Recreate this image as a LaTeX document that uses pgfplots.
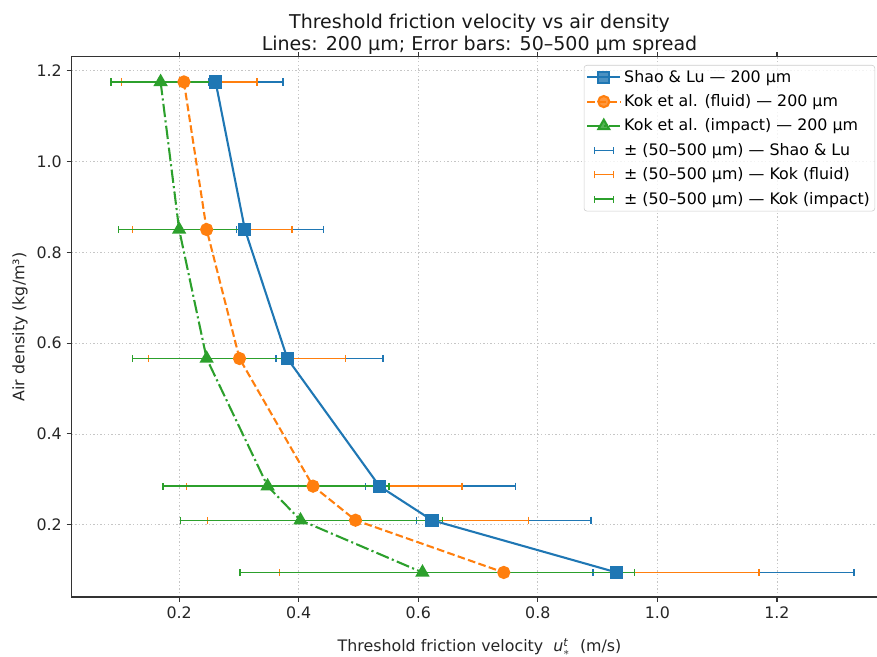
\documentclass[border=0pt]{standalone}
\usepackage{fontspec}
\setmainfont{DejaVu Sans}
\usepackage{pgfplots}
\usepackage{pgfplotstable}
\pgfplotsset{compat=1.18}

\definecolor{tabblue}{HTML}{1F77B4}
\definecolor{taborange}{HTML}{FF7F0E}
\definecolor{tabgreen}{HTML}{2CA02C}

% columns: x (200 um), y (air density), em/ep = spread to 50 / 500 um
\pgfplotstableread{
x      y      em     ep
0.261  1.175  0.012  0.113
0.310  0.850  0.014  0.131
0.381  0.566  0.019  0.160
0.535  0.285  0.023  0.228
0.623  0.210  0.026  0.266
0.932  0.095  0.040  0.397
}\shaolu
\pgfplotstableread{
x      y      em      ep
0.208  1.175  0.1045  0.122
0.246  0.850  0.124   0.143
0.301  0.566  0.152   0.177
0.424  0.285  0.2115  0.249
0.495  0.210  0.248   0.289
0.743  0.095  0.375   0.427
}\kokfluid
\pgfplotstableread{
x      y      em     ep
0.169  1.175  0.083  0.099
0.200  0.850  0.101  0.117
0.246  0.566  0.124  0.143
0.348  0.285  0.175  0.203
0.403  0.210  0.201  0.238
0.607  0.095  0.305  0.355
}\kokimpact

\pgfplotsset{
  errspread/.style={
    draw=none, forget plot,
    error bars/.cd, x dir=both, x explicit, error mark=|,
    error bar style={draw=#1, line width=1pt, solid},
    error mark options={draw=#1, line width=1pt, mark size=2.6pt, solid},
  },
  errlegend/.style={
    legend image code/.code={
      \draw[#1, line width=1pt] (0.18cm,0cm) -- (0.66cm,0cm);
      \draw[#1, line width=1pt] (0.18cm,-2.6pt) -- (0.18cm,2.6pt);
      \draw[#1, line width=1pt] (0.66cm,-2.6pt) -- (0.66cm,2.6pt);
    }
  },
}

\begin{document}
\begin{tikzpicture}
\begin{axis}[
    scale only axis,
    width=587.5pt, height=388.8pt,
    xmin=0.02, xmax=1.385,
    ymin=0.041, ymax=1.23,
    xtick={0.2,0.4,0.6,0.8,1.0,1.2},
    ytick={0.2,0.4,0.6,0.8,1.0,1.2},
    /pgf/number format/.cd, fixed, fixed zerofill, precision=1, assume math mode=true,
    /pgfplots/.cd,
    tick align=outside,
    major tick length=3.5pt,
    tick style={black!80, line width=0.8pt},
    axis line style={black!80, line width=0.8pt},
    every tick label/.append style={font=\fontsize{11.4}{13.7}\selectfont, text=black!85},
    grid=major,
    grid style={gray!45, line width=0.6pt, dash pattern=on 1pt off 1.6pt},
    title={Threshold friction velocity vs air density\\Lines: 200 µm; Error bars: 50–500 µm spread},
    title style={align=center, font=\fontsize{13.7}{15.8}\selectfont, text=black!90,
      at={(0.5,1)}, anchor=south, yshift=-7.6pt},
    xlabel={Threshold friction velocity \ \textit{u}$^{\mbox{\footnotesize\itshape t}}_{*}$ \ (m/s)},
    ylabel={Air density (kg/m³)},
    label style={font=\fontsize{11.4}{13.7}\selectfont, text=black!85},
    xlabel style={at={(axis description cs:0.5,0)}, anchor=center, yshift=-36pt},
    ylabel style={at={(axis description cs:-0.063,0.5)}, anchor=center},
    legend cell align=left,
    legend style={at={(1,1)}, anchor=north east, xshift=-9pt, yshift=-5.8pt,
      font=\fontsize{11.4}{13.7}\selectfont, draw=black!20, rounded corners=2pt,
      fill=white, fill opacity=0.8, text opacity=1, inner sep=1.5pt, row sep=3.4pt},
    legend image code/.code={
      \draw[mark repeat=2, mark phase=2, #1] plot coordinates {(0cm,0cm) (0.42cm,0cm) (0.84cm,0cm)};
    },
]
\coordinate (sw) at (rel axis cs:0,0);
\coordinate (ne) at (rel axis cs:1,1);

% error bars first so the markers sit on top
\addplot[errspread=tabblue] table[x=x, y=y, x error plus=ep, x error minus=em] {\shaolu};
\addplot[errspread=taborange] table[x=x, y=y, x error plus=ep, x error minus=em] {\kokfluid};
\addplot[errspread=tabgreen] table[x=x, y=y, x error plus=ep, x error minus=em] {\kokimpact};

\addplot[tabblue, line width=1.5pt, mark=square*, mark size=4pt, mark options={solid}]
  table[x=x, y=y] {\shaolu};
\addlegendentry{Shao \& Lu — 200 µm}
\addplot[taborange, line width=1.5pt, dash pattern=on 5.5pt off 2.4pt, mark=*, mark size=4pt, mark options={solid}]
  table[x=x, y=y] {\kokfluid};
\addlegendentry{Kok et al. (fluid) — 200 µm}
\addplot[tabgreen, line width=1.5pt, dash pattern=on 9.6pt off 2.4pt on 1.5pt off 2.4pt, mark=triangle*, mark size=4.5pt, mark options={solid}]
  table[x=x, y=y] {\kokimpact};
\addlegendentry{Kok et al. (impact) — 200 µm}

\addlegendimage{errlegend=tabblue}
\addlegendentry{± (50–500 µm) — Shao \& Lu}
\addlegendimage{errlegend=taborange}
\addlegendentry{± (50–500 µm) — Kok (fluid)}
\addlegendimage{errlegend=tabgreen}
\addlegendentry{± (50–500 µm) — Kok (impact)}
\end{axis}
\pgfresetboundingbox
\path ([shift={(-51.5pt,-43.2pt)}]sw) rectangle ([shift={(-7.6pt,41pt)}]ne);
\end{tikzpicture}
\end{document}
